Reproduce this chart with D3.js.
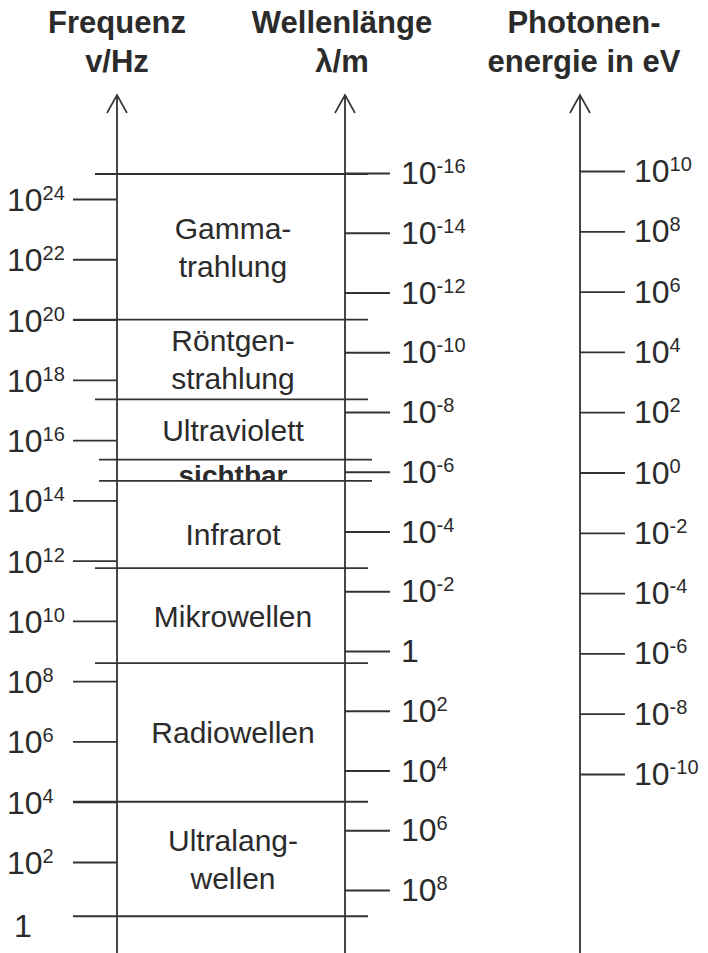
<!DOCTYPE html>
<html>
<head>
<meta charset="utf-8">
<script src="https://cdn.jsdelivr.net/npm/d3@7"></script>
<style>
  body { margin: 0; background: #fff; }
  text { font-family: "Liberation Sans", Arial, sans-serif; fill: #2b2b2b; }
</style>
</head>
<body>
<div id="chart"></div>
<script>
// Tick exponents (powers of ten) for each of the three scales
let freqTicks = [24, 22, 20, 18, 16, 14, 12, 10, 8, 6, 4, 2];
let freqLabels = [24, 22, 20, 18, 16, 14, 12, 10, 8, 6, 4, 2, 0];
let waveTicks = [-16, -14, -12, -10, -8, -6, -4, -2, 0, 2, 4, 6, 8];
let energyTicks = [10, 8, 6, 4, 2, 0, -2, -4, -6, -8, -10];

// Band names (top to bottom) and their borders as log10(frequency / Hz)
let bandNames = [
    ["Gamma-", "trahlung"],
    ["Röntgen-", "strahlung"],
    ["Ultraviolett"],
    ["sichtbar"],
    ["Infrarot"],
    ["Mikrowellen"],
    ["Radiowellen"],
    ["Ultralang-", "wellen"]
];
let bandEdges = [24.83, 20, 17.35, 15.35, 14.65, 11.75, 8.6, 4, 0.2];

// Axis titles
let titles = [
    ["Frequenz", "v/Hz"],
    ["Wellenlänge", "λ/m"],
    ["Photonen-", "energie in eV"]
];

let svgWidth = 708;
let svgHeight = 953;
let ink = "#333";

let svg = d3.select("#chart")
    .append("svg")
    .attr("width", svgWidth)
    .attr("height", svgHeight);

// x positions of the three vertical axes
let axisX = [117, 345, 580];

// Scales on the exponent
let freqY = d3.scaleLinear().domain([24, 2]).range([199, 862]);
let waveY = d3.scaleLinear().domain([-16, 8]).range([173, 890]);
let energyY = d3.scaleLinear().domain([10, -10]).range([171, 774]);

// Vertical axes with arrow heads
axisX.forEach(function (x) {
    svg.append("line")
        .attr("x1", x).attr("x2", x)
        .attr("y1", 95).attr("y2", svgHeight)
        .attr("stroke", ink)
        .attr("stroke-width", 1.8);
    svg.append("path")
        .attr("d", `M${x - 10},113 L${x},95 L${x + 10},113`)
        .attr("fill", "none")
        .attr("stroke", ink)
        .attr("stroke-width", 1.6);
});

// Titles
titles.forEach(function (t, i) {
    let cx = [117, 342, 584][i];
    t.forEach(function (line, j) {
        svg.append("text")
            .attr("x", cx)
            .attr("y", 33 + j * 39)
            .attr("text-anchor", "middle")
            .attr("font-size", "31px")
            .attr("font-weight", "bold")
            .text(line);
    });
});

// Tick lines through d3 axes
function tickAxis(axis, x) {
    let g = svg.append("g")
        .attr("transform", `translate(${x},0)`)
        .style("color", ink)
        .call(axis);
    g.select(".domain").remove();
    g.selectAll(".tick line").attr("stroke-width", 1.8);
    return g;
}

tickAxis(d3.axisLeft(freqY).tickValues(freqTicks).tickSize(44).tickFormat(""), axisX[0]);
tickAxis(d3.axisRight(waveY).tickValues(waveTicks).tickSize(45).tickFormat(""), axisX[1]);
tickAxis(d3.axisRight(energyY).tickValues(energyTicks).tickSize(45).tickFormat(""), axisX[2]);

// Power-of-ten labels with superscript; plainOne writes 10^0 as "1"
function powerLabel(x, y, e, plainOne) {
    let t = svg.append("text")
        .attr("x", x)
        .attr("y", y)
        .attr("font-size", "32px");
    if (e === 0 && plainOne) {
        t.text("1");
        return t;
    }
    t.append("tspan").text("10");
    t.append("tspan")
        .attr("font-size", "20px")
        .attr("dy", -11)
        .text(e);
    return t;
}

freqLabels.forEach(function (e) {
    if (e === 0) powerLabel(14, freqY(e) + 15, e, true);
    else powerLabel(7, freqY(e) + 12, e, true);
});
waveTicks.forEach(function (e) {
    powerLabel(401, waveY(e) + 11, e, true);
});
energyTicks.forEach(function (e) {
    powerLabel(634, energyY(e) + 11, e, false);
});

// Band borders
bandEdges.forEach(function (e, i) {
    let y = freqY(e);
    let r = Math.round(e);
    let onTick = Math.abs(e - r) < 0.25 && r % 2 === 0;
    let visible = i === 3 || i === 4;
    svg.append("line")
        .attr("x1", onTick ? 73 : (visible ? 99 : 95))
        .attr("x2", visible ? 372 : 368)
        .attr("y1", y).attr("y2", y)
        .attr("stroke", ink)
        .attr("stroke-width", 1.8);
});

// Band names, centred between their borders
let bandX = 233;
bandNames.forEach(function (lines, i) {
    let y0 = freqY(bandEdges[i]);
    let y1 = freqY(bandEdges[i + 1]);
    let mid = (y0 + y1) / 2;
    if (lines[0] === "sichtbar") {
        // the narrow visible band: bold, cut off by its lower border
        svg.append("clipPath").attr("id", "visClip")
            .append("rect")
            .attr("x", bandX - 100).attr("width", 200)
            .attr("y", y0).attr("height", y1 - y0);
        svg.append("text")
            .attr("x", bandX)
            .attr("y", y0 + 25)
            .attr("text-anchor", "middle")
            .attr("font-size", "28px")
            .attr("font-weight", "bold")
            .attr("clip-path", "url(#visClip)")
            .text(lines[0]);
        return;
    }
    if (lines[0] === "Infrarot") mid += 10;
    let lh = 38;
    lines.forEach(function (line, j) {
        let cy = mid + (j - (lines.length - 1) / 2) * lh;
        svg.append("text")
            .attr("x", bandX)
            .attr("y", cy + 11)
            .attr("text-anchor", "middle")
            .attr("font-size", "30px")
            .text(line);
    });
});
</script>
</body>
</html>
